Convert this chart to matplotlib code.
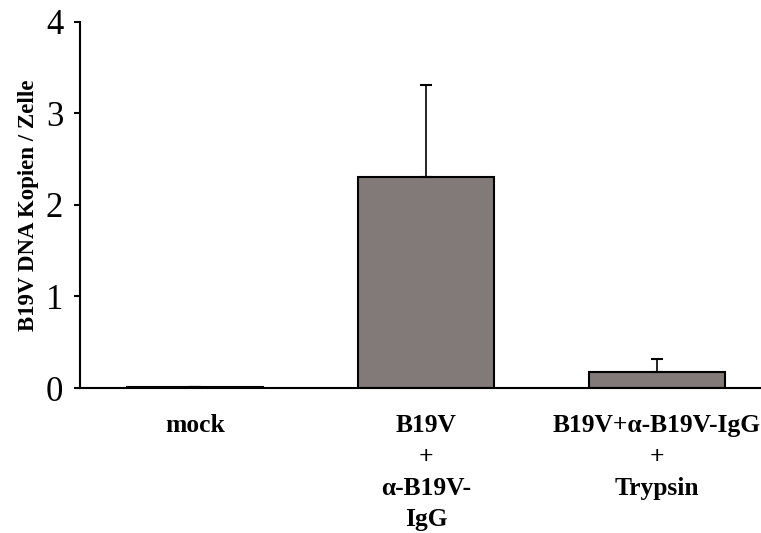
"""
B19V DNA copies per cell, bar chart with upper error bars
"""

import matplotlib
matplotlib.use("Agg")
import matplotlib.pyplot as plt

categories = ["mock", "B19V\n+\nα-B19V-\nIgG", "B19V+α-B19V-IgG\n+\nTrypsin"]
copies = [0.01, 2.30, 0.175]
copies_err = [0.0, 1.01, 0.145]
y_ticks = [0, 1, 2, 3, 4]

plt.rcParams["font.family"] = ["Liberation Serif", "DejaVu Serif"]

fig = plt.figure(figsize=(7.61, 5.33), dpi=100)
ax = fig.add_axes([0.105, 0.272, 0.895, 0.687])

x = range(len(categories))
ax.bar(x, copies, width=0.59, color="#817a78", edgecolor="black", linewidth=1.5,
       yerr=[[0] * len(copies_err), copies_err], capsize=4,
       error_kw=dict(ecolor="black", elinewidth=1.2, capthick=1.5))

ax.set_xlim(-0.5, 2.45)
ax.set_ylim(0, 4)
ax.set_yticks(y_ticks)
ax.set_xticks(list(x))
ax.set_xticklabels(categories, fontsize=18.4, fontweight="bold", linespacing=1.45)
ax.tick_params(axis="x", length=0, pad=19)
ax.tick_params(axis="y", direction="out", length=4, width=1.5, labelsize=25, pad=8)
ax.set_ylabel("B19V DNA Kopien / Zelle", fontsize=16.5, fontweight="bold", labelpad=5)

for side in ["top", "right"]:
    ax.spines[side].set_visible(False)
for side in ["left", "bottom"]:
    ax.spines[side].set_linewidth(1.5)

fig.savefig("out.png", dpi=100)
